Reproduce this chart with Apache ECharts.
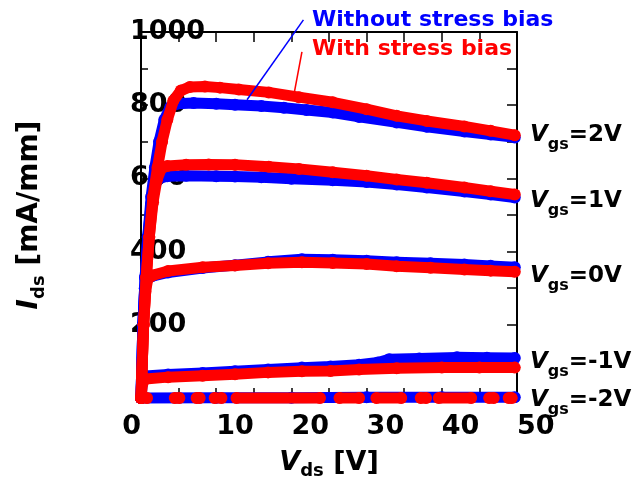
<!DOCTYPE html>
<html>
<head>
<meta charset="utf-8">
<script src="https://cdn.jsdelivr.net/npm/echarts@6/dist/echarts.min.js"></script>
<style>
  html, body { margin: 0; padding: 0; background: #fff; }
  #chart { width: 638px; height: 485px; }
</style>
</head>
<body>
<div id="chart"></div>
<script>
// [Vds (V), Ids (mA/mm)]
var noStress2V = [[0,0],[0.25,200],[0.55,330],[0.9,440],[1.35,550],[1.85,630],[2.4,700],[3.1,760],[3.9,795],[4.8,804],[7,806],[10,804],[12.5,801],[16,798],[19,793],[22,787],[25.5,780],[29,768],[34,753],[38,741],[43,728],[46.5,720],[49.7,712]];
var stress2V = [[0,0],[0.35,200],[0.7,330],[1.1,440],[1.6,550],[2.2,630],[2.8,700],[3.5,760],[4.3,812],[5.3,840],[6.5,850],[8.5,851],[10.5,848],[13,843],[17,835],[21,822],[25.5,808],[30,789],[34,771],[38,757],[43,742],[46.5,730],[49.7,718]];

var noStress1V = [[0,0],[0.25,200],[0.55,330],[0.9,440],[1.35,530],[1.8,580],[2.4,600],[3.5,606],[6,607],[10,606],[12.5,605],[16,603],[20,599],[25.5,595],[30,590],[34,583],[38,575],[43,564],[46.5,556],[49.7,548]];
var stress1V = [[0,0],[0.35,200],[0.7,330],[1.1,440],[1.6,535],[2.1,595],[2.7,627],[3.5,634],[6,637],[9,638],[12.5,637],[17,632],[21,626],[25.5,617],[30,607],[34,597],[38,588],[43,575],[46.5,565],[49.7,556]];

var noStress0V = [[0,0],[0.25,200],[0.5,300],[0.75,325],[1.5,333],[3.6,343],[8.2,355],[12.5,363],[16.9,372],[21.4,379],[25.5,378],[30,375],[34,371],[38.5,368],[43,365],[46.5,361],[49.7,357]];
var stress0V = [[0,0],[0.35,200],[0.6,290],[0.9,325],[1.5,335],[3.6,347],[8.2,357],[12.5,362],[16.9,368],[21.4,371],[25.5,369],[30,366],[34,360],[38.5,356],[43,351],[46.5,348],[49.7,345]];

var noStressM1V = [[0,0],[0.2,45],[0.6,60],[3.6,64],[8.2,68],[12.5,73],[16.9,78],[21.4,83],[25.2,86],[29,91],[31.5,97],[33,106],[37,108],[42,111],[46,110],[49.7,109]];
var stressM1V = [[0,0],[0.2,40],[0.6,52],[3.6,57],[8.2,61],[12.5,65],[16.9,70],[21.4,73],[25.2,74],[29,78],[34,81],[40,83],[45,83],[49.7,83]];

var noStressM2V = [[0,0],[10,1],[20,1],[30,2],[40,2],[49.7,2]];
// with stress, -2V: dots come in clusters, null = gap
var stressM2V = [[0,0],[0.8,0],[0.9,null],[4.5,0],[5.1,0],[5.2,null],[7.4,0],[7.8,0],[7.9,null],[9.8,0],[10.7,0],[10.8,null],[12.7,0],[23.8,0],[23.9,null],[26.4,0],[29,0],[29.1,null],[31.3,0],[34.6,0],[34.7,null],[37.2,0],[37.9,0],[38,null],[39.6,0],[43.9,0],[44,null],[46.3,0],[46.9,0],[47,null],[48.9,0],[49.3,0]];

var gateLabels = ['2V', '1V', '0V', '-1V', '-2V'];
var xTicks = [0, 10, 20, 30, 40, 50];
var yTicks = [0, 200, 400, 600, 800, 1000];

var BLUE = '#0000ff', RED = '#ff0000';
var FONT = 'DejaVu Sans';

function curve(name, color, data, z) {
  return {
    type: 'line',
    name: name,
    data: data,
    z: z,
    clip: false,
    symbol: 'circle',
    symbolSize: 12,
    showSymbol: true,
    showAllSymbol: true,
    connectNulls: false,
    itemStyle: { color: color },
    lineStyle: { color: color, width: 11, cap: 'round', join: 'round' },
    animation: false
  };
}

var tickStyle = { color: '#000', width: 1.5 };
var labelFont = { fontFamily: FONT, fontSize: 27, fontWeight: 'bold', color: '#000' };
var plain = function (v) { return String(v); };

var subRich = function (main, sub, pad) {
  return {
    m: { fontFamily: FONT, fontSize: main, fontWeight: 'bold', fontStyle: 'italic', color: '#000' },
    s: { fontFamily: FONT, fontSize: sub, fontWeight: 'bold', color: '#000', padding: [pad, 0, 0, 0] },
    t: { fontFamily: FONT, fontSize: main, fontWeight: 'bold', color: '#000' }
  };
};

var myChart = echarts.init(document.getElementById('chart'));

var option = {
  backgroundColor: '#fff',
  animation: false,
  grid: { left: 141, right: 121, top: 32, bottom: 86 },
  xAxis: [{
    type: 'value',
    position: 'bottom',
    min: xTicks[0],
    max: xTicks[xTicks.length - 1],
    interval: 10,
    axisLine: { show: true, onZero: false, lineStyle: { color: '#000', width: 2 } },
    axisTick: { inside: true, length: 10, lineStyle: tickStyle },
    minorTick: { show: true, splitNumber: 2, length: 10, lineStyle: tickStyle },
    splitLine: { show: false },
    axisLabel: Object.assign({ align: 'left', alignMinLabel: 'right', margin: 15, formatter: plain }, labelFont),
    name: '{m|V}{s|ds}{t| [V]}',
    nameLocation: 'middle',
    nameGap: 48,
    nameTextStyle: { rich: subRich(27, 18, 16) }
  }, {
    type: 'value',
    position: 'top',
    min: xTicks[0],
    max: xTicks[xTicks.length - 1],
    interval: 10,
    axisLine: { show: true, onZero: false, lineStyle: { color: '#000', width: 2 } },
    axisTick: { inside: true, length: 10, lineStyle: tickStyle },
    minorTick: { show: true, splitNumber: 2, length: 10, lineStyle: tickStyle },
    splitLine: { show: false },
    axisLabel: { show: false }
  }],
  yAxis: [{
    type: 'value',
    position: 'left',
    min: yTicks[0],
    max: yTicks[yTicks.length - 1],
    interval: 200,
    axisLine: { show: true, onZero: false, lineStyle: { color: '#000', width: 2 } },
    axisTick: { inside: true, length: 7, lineStyle: tickStyle },
    minorTick: { show: true, splitNumber: 2, length: 7, lineStyle: tickStyle },
    splitLine: { show: false },
    axisLabel: Object.assign({ showMinLabel: false, align: 'left', margin: 11, formatter: plain }, labelFont),
    name: '{m|I}{s|ds}{t| [mA/mm]}',
    nameLocation: 'middle',
    nameGap: 93,
    nameRotate: 90,
    nameTextStyle: { rich: subRich(28, 18, 18) }
  }, {
    type: 'value',
    position: 'right',
    min: yTicks[0],
    max: yTicks[yTicks.length - 1],
    interval: 200,
    axisLine: { show: true, onZero: false, lineStyle: { color: '#000', width: 2 } },
    axisTick: { inside: true, length: 10, lineStyle: tickStyle },
    minorTick: { show: true, splitNumber: 2, length: 10, lineStyle: tickStyle },
    splitLine: { show: false },
    axisLabel: { show: false }
  }],
  series: [
    curve('Without stress bias', BLUE, noStress2V, 2),
    curve('Without stress bias', BLUE, noStress1V, 2),
    curve('Without stress bias', BLUE, noStress0V, 2),
    curve('Without stress bias', BLUE, noStressM1V, 2),
    curve('Without stress bias', BLUE, noStressM2V, 2),
    curve('With stress bias', RED, stress2V, 3),
    curve('With stress bias', RED, stress1V, 3),
    curve('With stress bias', RED, stress0V, 3),
    curve('With stress bias', RED, stressM1V, 3),
    curve('With stress bias', RED, stressM2V, 3)
  ]
};
myChart.setOption(option);

// annotations: legend texts, leader lines, Vgs labels
var gateY = [135, 201, 276, 362, 400];
var graphics = [
  { type: 'text', x: 312, y: 20, z: 100,
    style: { text: 'Without stress bias', fill: BLUE, font: 'bold 22px "DejaVu Sans"', verticalAlign: 'middle', align: 'left' } },
  { type: 'text', x: 312, y: 49, z: 100,
    style: { text: 'With stress bias', fill: RED, font: 'bold 22px "DejaVu Sans"', verticalAlign: 'middle', align: 'left' } }
];

var blueA = myChart.convertToPixel({ xAxisIndex: 0, yAxisIndex: 0 }, [14.1, 815]);
var blueB = myChart.convertToPixel({ xAxisIndex: 0, yAxisIndex: 0 }, [21.6, 1033]);
var redA = myChart.convertToPixel({ xAxisIndex: 0, yAxisIndex: 0 }, [20.4, 836]);
var redB = myChart.convertToPixel({ xAxisIndex: 0, yAxisIndex: 0 }, [21.4, 946]);
graphics.push({ type: 'line', z: 100, shape: { x1: blueA[0], y1: blueA[1], x2: blueB[0], y2: blueB[1] }, style: { stroke: BLUE, lineWidth: 1.5 } });
graphics.push({ type: 'line', z: 100, shape: { x1: redA[0], y1: redA[1], x2: redB[0], y2: redB[1] }, style: { stroke: RED, lineWidth: 1.5 } });

gateLabels.forEach(function (g, i) {
  graphics.push({
    type: 'text', x: 530, y: gateY[i], z: 100,
    style: {
      text: '{m|V}{s|gs}{t|=' + g + '}',
      rich: subRich(23, 16, 19),
      verticalAlign: 'middle',
      align: 'left'
    }
  });
});

myChart.setOption({ graphic: graphics });
</script>
</body>
</html>
